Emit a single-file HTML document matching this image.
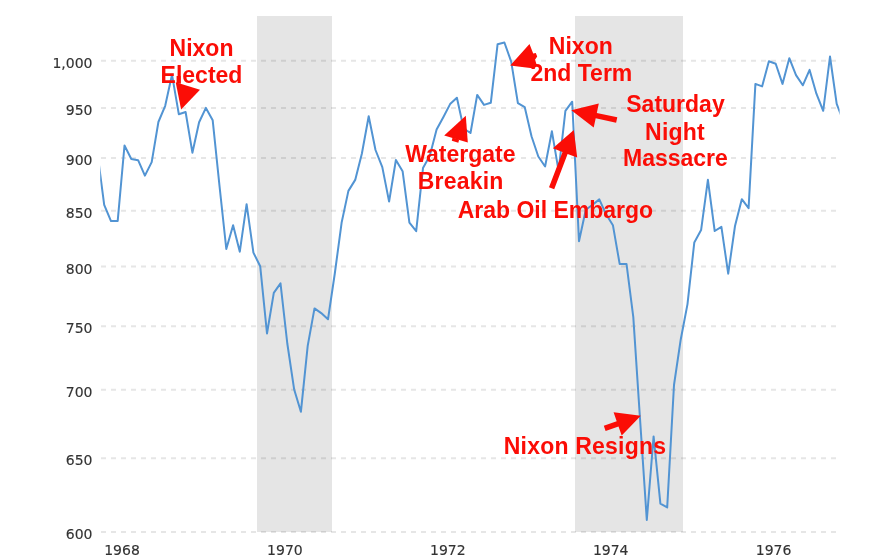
<!DOCTYPE html>
<html><head><meta charset="utf-8"><title>Dow Jones - Nixon Era</title>
<style>
html,body{margin:0;padding:0;background:#fff;}
body{width:888px;height:560px;overflow:hidden;}
svg{display:block;}
.ax text{font-family:"DejaVu Sans","Liberation Sans",sans-serif;font-size:14px;fill:#333;stroke:#333;stroke-width:0.15px;}
.grid line{stroke:#e6e6e6;stroke-width:2;stroke-dasharray:5 5;}
.band{fill:rgba(0,0,0,0.1);}
.ann text{font-family:"Liberation Sans",Arial,sans-serif;font-weight:bold;font-size:23px;fill:#fb0d06;text-anchor:middle;}
.arr polygon{fill:#fb0d06;}
</style></head><body>
<svg width="888" height="560" viewBox="0 0 888 560">
<rect width="888" height="560" fill="#fff"/>
<defs><clipPath id="c"><rect x="100.2" y="10" width="739.4" height="530"/></clipPath></defs>
<g class="grid">
<line x1="101" x2="840" y1="532.0" y2="532.0"/>
<line x1="101" x2="840" y1="458.2" y2="458.2"/>
<line x1="101" x2="840" y1="389.8" y2="389.8"/>
<line x1="101" x2="840" y1="326.2" y2="326.2"/>
<line x1="101" x2="840" y1="266.6" y2="266.6"/>
<line x1="101" x2="840" y1="210.7" y2="210.7"/>
<line x1="101" x2="840" y1="158.0" y2="158.0"/>
<line x1="101" x2="840" y1="108.1" y2="108.1"/>
<line x1="101" x2="840" y1="60.8" y2="60.8"/>
</g>
<rect class="band" x="257" y="16" width="75" height="516"/>
<rect class="band" x="575" y="16" width="108" height="516"/>
<g class="ax">
<text x="92.5" y="539.0" text-anchor="end">600</text>
<text x="92.5" y="465.2" text-anchor="end">650</text>
<text x="92.5" y="396.8" text-anchor="end">700</text>
<text x="92.5" y="333.2" text-anchor="end">750</text>
<text x="92.5" y="273.6" text-anchor="end">800</text>
<text x="92.5" y="217.7" text-anchor="end">850</text>
<text x="92.5" y="165.0" text-anchor="end">900</text>
<text x="92.5" y="115.1" text-anchor="end">950</text>
<text x="92.5" y="67.8" text-anchor="end">1,000</text>
<text x="122.0" y="554.8" text-anchor="middle">1968</text>
<text x="284.9" y="554.8" text-anchor="middle">1970</text>
<text x="447.8" y="554.8" text-anchor="middle">1972</text>
<text x="610.7" y="554.8" text-anchor="middle">1974</text>
<text x="773.6" y="554.8" text-anchor="middle">1976</text>
</g>
<polyline clip-path="url(#c)" fill="none" stroke="#5294d3" stroke-width="2" stroke-linejoin="round" stroke-linecap="round" points="97.4,152.8 104.2,204.8 111.0,221.1 117.7,220.9 124.5,145.5 131.3,159.0 138.1,160.2 144.9,175.6 151.7,162.1 158.4,122.0 165.2,105.8 172.0,74.7 178.8,114.2 185.6,112.0 192.4,152.7 199.1,122.3 205.9,107.9 212.7,120.3 219.5,185.9 226.3,249.0 233.1,225.2 239.8,251.7 246.6,204.2 253.4,252.6 260.2,266.2 267.0,333.5 273.8,292.8 280.5,283.4 287.3,343.5 294.1,389.2 300.9,411.8 307.7,345.9 314.5,308.4 321.2,313.1 328.0,319.3 334.8,273.5 341.6,222.8 348.4,190.9 355.2,179.9 361.9,153.5 368.7,116.2 375.5,150.0 382.3,167.1 389.1,201.6 395.9,160.0 402.6,171.2 409.4,222.7 416.2,231.2 423.0,168.1 429.8,155.8 436.6,129.6 443.3,117.2 450.1,104.1 456.9,97.8 463.7,128.7 470.5,133.0 477.2,94.9 484.0,104.9 490.8,102.8 497.6,44.2 504.4,42.5 511.2,61.7 517.9,103.2 524.7,107.1 531.5,136.3 538.3,156.5 545.1,166.5 551.9,131.3 558.6,170.8 565.4,110.9 572.2,101.7 579.0,241.3 585.8,209.8 592.6,204.7 599.3,199.4 606.1,214.3 612.9,225.2 619.7,264.1 626.5,263.9 633.3,317.1 640.0,418.5 646.8,520.0 653.6,436.4 660.4,503.7 667.2,507.4 674.0,385.0 680.7,339.7 687.5,304.1 694.3,242.4 701.1,230.1 707.9,179.8 714.7,231.0 721.4,226.8 728.2,273.7 735.0,226.0 741.8,199.2 748.6,208.1 755.4,83.9 762.1,86.4 768.9,61.3 775.7,63.7 782.5,83.9 789.3,58.2 796.0,75.1 802.8,85.3 809.6,69.9 816.4,93.7 823.2,110.8 830.0,56.5 836.7,103.9 843.5,121.4"/>
<g class="ann">
<text x="201.5" y="55.8">Nixon</text><text x="201.5" y="82.8">Elected</text>
<text x="580.8" y="53.5">Nixon</text><text x="581.4" y="81.4">2nd Term</text>
<text x="460.3" y="162.4">Watergate</text><text x="460.7" y="189.2" style="letter-spacing:0.2px">Breakin</text>
<text x="675.5" y="112.4">Saturday</text><text x="675" y="139.6" style="letter-spacing:0.2px">Night</text><text x="675.4" y="166.3">Massacre</text>
<text x="555.4" y="217.7">Arab Oil Embargo</text>
<text x="585" y="454.3" style="letter-spacing:0.2px">Nixon Resigns</text>
</g>
<g class="arr">
<polygon points="175.7,82.3 200,89.8 181.1,109.4"/>
<polygon points="176.6,76 180.6,76 180.6,84 176.6,83"/>
<polygon points="510.2,65.5 529.5,43.9 533.2,53.6 535.8,52.9 537.2,56.5 535,59.8 536.6,64.5 534.5,68.6 520,66.8"/>
<polygon points="444.2,135.5 465.8,115.8 467.8,142.5"/>
<polygon points="452.5,137.5 451.8,140.8 458.3,142.8 459.2,139.5"/>
<polygon points="617.3,117.3 596.8,112.9 598.8,103.6 571.3,110.3 593.7,127.6 595.7,118.3 616.1,122.7"/>
<polygon points="554.2,189.2 567.6,153.9 577.2,157.5 573.8,130.0 552.9,148.3 562.5,151.9 549.0,187.2"/>
<polygon points="605.6,430.9 618.5,426.4 621.7,435.4 640.8,415.8 613.6,412.2 616.7,421.2 603.8,425.7"/>
</g>
</svg>
</body></html>
